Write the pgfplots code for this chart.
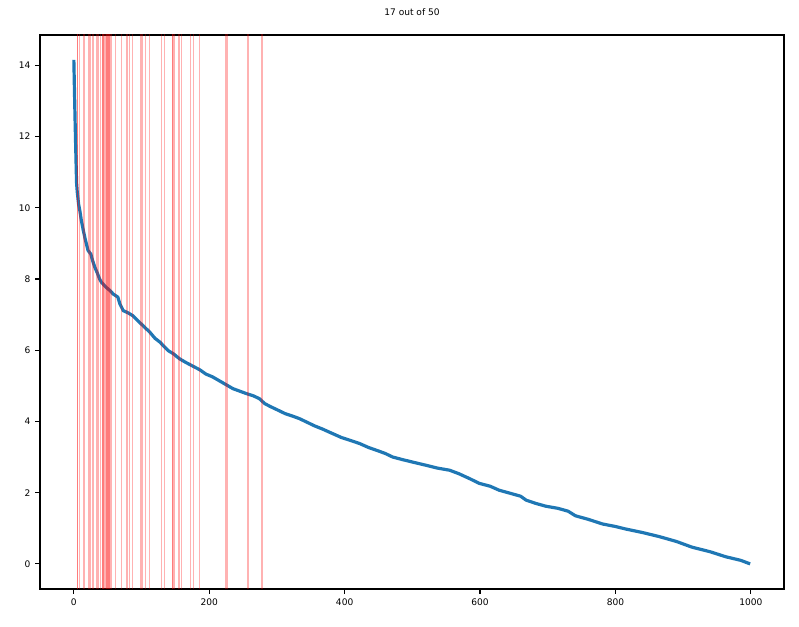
\documentclass[border=0pt]{standalone}
\usepackage{pgfplots}
\pgfplotsset{compat=1.18}
\usepackage{fontspec}
\setmainfont{DejaVu Sans}
\definecolor{mplblue}{HTML}{1F77B4}
\definecolor{vred}{rgb}{1,0,0}
\begin{document}
\begin{tikzpicture}
\begin{axis}[
  scale only axis,
  width=558pt, height=415.5pt,
  xmin=-50, xmax=1049, ymin=-0.705, ymax=14.85,
  xtick={0,200,400,600,800,1000},
  ytick={0,2,4,6,8,10,12,14},
  xtick pos=bottom, ytick pos=left,
  tick align=outside,
  major tick length=3.6pt,
  every tick/.style={black, line width=0.9pt},
  axis line style={line width=1pt},
  tick label style={font=\fontsize{6.8}{8}\selectfont},
  /pgf/number format/assume math mode=true,
  /pgf/number format/1000 sep={},
  title={17 out of 50},
  title style={font=\fontsize{6.8}{8}\selectfont, yshift=5pt},
]
\addplot[mplblue, line width=2.4pt, line join=round] coordinates {
(0,14.15) (1,13.2) (2,12.3) (3,11.5) (4,10.7) (5,10.45) (7,10.1) (9,9.9) (11,9.65) (14,9.36) (17,9.1) (21,8.8) (25,8.7) (28,8.5) (31,8.33) (35,8.15) (38,8.0) (41,7.9) (45,7.82) (48,7.76) (53,7.68) (58,7.58) (65,7.49) (68,7.3) (73,7.11) (80,7.05) (87,6.97) (95,6.82) (102,6.69) (107,6.6) (112,6.51) (120,6.33) (127,6.23) (132,6.13) (140,5.98) (147,5.9) (156,5.76) (165,5.66) (175,5.56) (186,5.45) (195,5.33) (205,5.25) (215,5.14) (225,5.03) (235,4.92) (245,4.85) (255,4.78) (265,4.72) (274,4.64) (282,4.5) (290,4.42) (300,4.33) (312,4.22) (323,4.15) (333,4.08) (343,3.99) (355,3.88) (368,3.78) (382,3.66) (395,3.55) (408,3.47) (422,3.38) (435,3.27) (450,3.17) (460,3.1) (471,3.0) (485,2.93) (500,2.86) (520,2.77) (537,2.69) (555,2.63) (569,2.53) (585,2.39) (599,2.26) (615,2.18) (628,2.07) (645,1.98) (660,1.9) (668,1.79) (682,1.7) (697,1.62) (715,1.56) (730,1.48) (741,1.35) (760,1.25) (781,1.12) (800,1.05) (815,0.98) (840,0.88) (864,0.77) (890,0.63) (913,0.47) (940,0.34) (963,0.2) (985,0.1) (999,0.0)
};
\pgfplotsinvokeforeach{5.4,7.9,13.8,16,22.6,25,28.5,33,34.5,36.9,39.8,42,43,44,45.7,47,48,49,50.6,52,53,54,55.6,62,70,78.7,82.6,86.5,98.8,100,101,106,112,129,134,145.5,146.5,149,155,156.5,159,172,177,186,224,225,227,257,278,5.8}{
  \addplot[draw=vred, draw opacity=0.3, line width=1pt, forget plot] coordinates {(#1,-1) (#1,16)};
}
\end{axis}
\pgfresetboundingbox
\path ([shift={(-30pt,-28.5pt)}]current axis.south west) rectangle ([shift={(11.25pt,26.25pt)}]current axis.north east);
\end{tikzpicture}
\end{document}
